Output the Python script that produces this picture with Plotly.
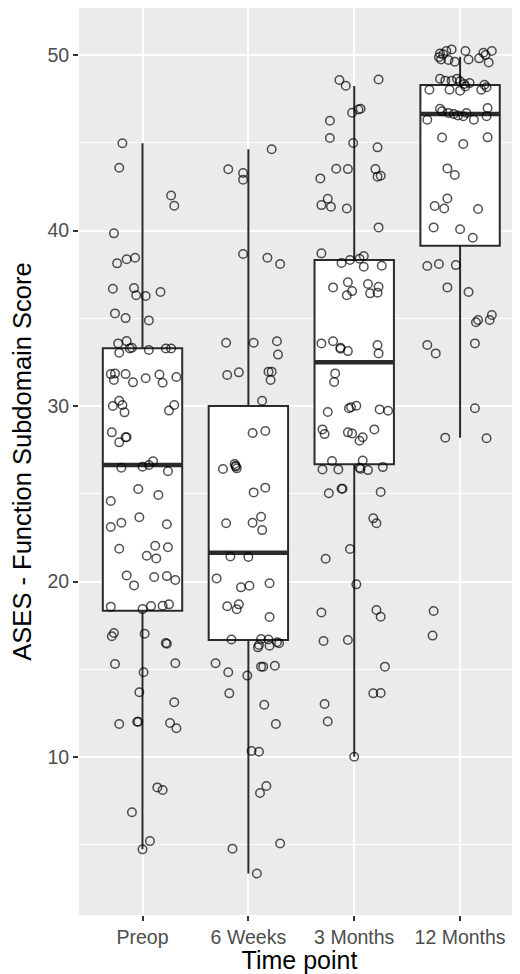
import plotly.graph_objects as go

categories = ["Preop", "6 Weeks", "3 Months", "12 Months"]

# Box statistics
q1 = [18.34, 16.67, 26.68, 39.13]
median = [26.64, 21.64, 32.49, 46.64]
q3 = [33.30, 30.00, 38.32, 48.29]
lower_whisker = [4.74, 3.36, 10.02, 28.20]
upper_whisker = [44.97, 44.63, 48.23, 49.90]

# Jittered points: (horizontal jitter offset in category units, score)
preop_jitter = [-0.19, -0.22, 0.27, 0.30, -0.27, -0.24, -0.15, -0.07, -0.28, -0.08, -0.06, 0.03, 0.17,
                -0.26, -0.16, 0.06, -0.23, -0.15, -0.10, -0.22, -0.12, 0.06, 0.22, 0.27, -0.30, -0.26,
                -0.27, -0.16, -0.09, 0.03, 0.16, 0.19, 0.32, -0.22, -0.19, -0.28, -0.17, 0.30, 0.25,
                -0.29, -0.22, -0.16, -0.15, -0.20, 0.00, 0.06, 0.10, 0.24, -0.04, 0.15, -0.30, -0.03,
                -0.20, -0.30, 0.23, -0.22, 0.12, 0.24, 0.04, 0.13, -0.15, -0.08, 0.11, 0.23, 0.31,
                -0.30, 0.00, 0.08, 0.19, 0.25, -0.29, -0.27, 0.02, 0.22, 0.23, -0.26, 0.01, 0.31,
                -0.03, 0.30, -0.22, -0.05, -0.04, 0.26, 0.32, 0.14, 0.19, -0.10, 0.07, 0.00]
preop_score = [44.97, 43.58, 42.00, 41.41, 39.84, 38.13, 38.36, 38.45, 36.68, 36.72, 36.31, 36.27, 36.50,
               35.28, 35.01, 34.88, 33.57, 33.70, 33.32, 33.04, 33.28, 33.19, 33.28, 33.28, 31.82, 31.86,
               31.48, 31.82, 31.35, 31.58, 31.80, 31.33, 31.65, 30.30, 30.06, 30.00, 29.64, 30.06, 29.74,
               28.50, 27.93, 28.22, 28.22, 26.48, 26.54, 26.64, 26.85, 26.28, 25.27, 24.93, 24.59, 23.66,
               23.35, 23.11, 23.26, 21.87, 22.04, 21.95, 21.47, 21.32, 20.35, 19.78, 20.26, 20.31, 20.09,
               18.57, 18.43, 18.60, 18.62, 18.70, 16.88, 17.07, 17.03, 16.50, 16.46, 15.30, 14.83, 15.34,
               13.69, 13.12, 11.88, 12.01, 12.01, 11.94, 11.64, 8.27, 8.12, 6.85, 5.21, 4.74]

weeks6_jitter = [0.22, -0.19, -0.05, -0.05, -0.05, 0.18, 0.30, -0.21, 0.05, 0.27, 0.28, -0.20, -0.09,
                 0.19, 0.22, 0.21, 0.13, 0.04, 0.16, -0.24, -0.13, -0.12, -0.11, -0.12, 0.05, 0.16,
                 -0.21, 0.04, 0.12, 0.13, -0.17, 0.00, -0.30, -0.07, 0.01, 0.20, -0.20, -0.11, -0.09,
                 0.20, -0.16, 0.12, 0.09, 0.10, 0.19, 0.20, 0.27, 0.29, -0.31, -0.19, -0.01, 0.12,
                 0.14, 0.25, -0.18, 0.15, 0.26, 0.03, 0.10, 0.17, 0.11, -0.15, 0.30, 0.08]
weeks6_score = [44.63, 43.49, 43.28, 42.90, 38.66, 38.45, 38.09, 33.61, 33.61, 33.69, 32.93, 31.77, 31.92,
                31.96, 31.96, 31.48, 30.30, 28.46, 28.58, 26.41, 26.70, 26.60, 26.45, 26.55, 25.08, 25.35,
                23.32, 23.35, 23.69, 22.93, 21.43, 21.40, 20.18, 19.67, 19.76, 19.90, 18.59, 18.42, 18.70,
                17.98, 16.70, 16.72, 16.25, 16.38, 16.70, 16.34, 16.54, 16.48, 15.34, 14.83, 14.64, 15.15,
                15.15, 15.20, 13.63, 12.98, 11.88, 10.34, 10.30, 8.35, 7.95, 4.78, 5.07, 3.36]

months3_jitter = [-0.14, -0.08, 0.23, -0.02, 0.04, 0.06, -0.23, -0.23, -0.01, 0.22, -0.17, -0.06, 0.20,
                  0.22, 0.25, -0.32, -0.25, -0.31, -0.22, -0.07, 0.23, -0.31, -0.12, -0.04, 0.05, 0.09,
                  0.09, 0.26, -0.20, -0.06, -0.02, -0.07, 0.13, 0.23, 0.15, 0.22, -0.31, -0.20, -0.13,
                  -0.13, -0.06, 0.22, 0.23, -0.18, -0.19, -0.25, -0.05, -0.03, 0.02, 0.24, 0.32, -0.30,
                  -0.28, -0.06, -0.02, 0.05, 0.08, 0.19, -0.21, 0.08, -0.30, -0.15, 0.05, 0.06, 0.13,
                  0.27, -0.12, -0.11, -0.24, 0.25, 0.18, 0.21, -0.04, -0.27, 0.02, -0.31, 0.21, 0.25,
                  -0.29, -0.06, 0.29, 0.18, 0.25, -0.28, -0.25, 0.00]
months3_score = [48.58, 48.25, 48.61, 46.71, 46.90, 46.94, 46.26, 45.27, 44.99, 44.74, 43.52, 43.50, 43.50,
                 43.07, 43.12, 42.97, 41.81, 41.45, 41.36, 41.26, 40.18, 38.70, 38.15, 38.32, 38.39, 38.55,
                 37.94, 37.99, 36.76, 37.05, 36.55, 36.31, 36.95, 36.80, 36.42, 36.46, 33.57, 33.69, 33.32,
                 33.27, 33.13, 33.48, 33.00, 31.86, 31.37, 29.66, 29.87, 29.93, 30.02, 29.81, 29.73, 28.67,
                 28.40, 28.50, 28.44, 28.02, 28.22, 28.67, 26.87, 26.90, 26.39, 26.39, 26.48, 26.42, 26.35,
                 26.52, 25.29, 25.29, 25.03, 25.10, 23.60, 23.32, 21.85, 21.30, 19.84, 18.24, 18.38, 17.99,
                 16.61, 16.67, 15.15, 13.63, 13.65, 13.02, 12.03, 10.02]

months12_jitter = [-0.19, -0.20, -0.16, -0.13, -0.08, -0.18, -0.11, -0.05, 0.05, 0.08, 0.18, 0.22, 0.24,
                   0.30, 0.27, -0.19, -0.14, -0.08, -0.03, 0.00, 0.04, 0.09, 0.23, -0.29, -0.10, 0.00,
                   0.05, 0.20, 0.25, -0.19, -0.17, -0.11, -0.06, -0.02, 0.03, 0.06, 0.13, 0.26, 0.25,
                   -0.31, -0.17, 0.03, 0.26, -0.12, -0.05, -0.12, -0.24, -0.15, 0.17, -0.25, 0.00, 0.12,
                   -0.31, -0.20, -0.04, -0.12, 0.08, 0.15, 0.17, 0.28, 0.30, -0.31, -0.23, 0.14, 0.14,
                   -0.14, 0.25, -0.25, -0.26]
months12_score = [50.09, 49.87, 50.04, 50.23, 50.32, 49.75, 49.72, 49.62, 50.23, 49.75, 49.81, 50.13, 50.00,
                  50.23, 49.58, 48.65, 48.54, 48.54, 48.65, 48.50, 48.35, 48.40, 48.31, 48.02, 48.02, 47.97,
                  48.21, 48.02, 48.16, 46.94, 46.79, 46.70, 46.64, 46.56, 46.51, 46.70, 46.31, 46.98, 46.51,
                  46.31, 45.30, 44.93, 45.31, 43.54, 43.16, 41.83, 41.40, 41.26, 41.23, 40.18, 40.07, 39.59,
                  37.98, 38.09, 38.03, 36.76, 36.50, 34.77, 34.90, 34.90, 35.19, 33.48, 33.00, 33.57, 29.87,
                  28.20, 28.16, 18.32, 16.92]

y_ticks = [10, 20, 30, 40, 50]

BOX_WIDTH = 0.75
FONT = "Liberation Sans, Arial, sans-serif"
pos = list(range(len(categories)))

fig = go.Figure()

fig.add_trace(go.Box(
    x=pos, q1=q1, median=median, q3=q3,
    lowerfence=lower_whisker, upperfence=upper_whisker,
    width=BOX_WIDTH, whiskerwidth=0, boxpoints=False,
    fillcolor="white", line=dict(color="#2b2b2b", width=2),
    hoverinfo="skip", showlegend=False,
))

# thicker median bars (ggplot fatten)
mx, my = [], []
for p, m in zip(pos, median):
    mx += [p - BOX_WIDTH / 2, p + BOX_WIDTH / 2, None]
    my += [m, m, None]
fig.add_trace(go.Scatter(x=mx, y=my, mode="lines",
                         line=dict(color="#2b2b2b", width=4.5),
                         hoverinfo="skip", showlegend=False))

groups = [(preop_jitter, preop_score), (weeks6_jitter, weeks6_score),
          (months3_jitter, months3_score), (months12_jitter, months12_score)]
px_, py_ = [], []
for p, (jit, sc) in zip(pos, groups):
    px_ += [p + j for j in jit]
    py_ += sc
fig.add_trace(go.Scatter(
    x=px_, y=py_, mode="markers",
    marker=dict(symbol="circle-open", size=8.5, color="rgba(0,0,0,0.68)",
                line=dict(width=1.5)),
    hoverinfo="skip", showlegend=False,
))

# The page body adds an 8 px margin at left/top; the figure is sized to fit.
fig.update_layout(
    width=512, height=966,
    margin=dict(l=71, r=0, t=0, b=59, autoexpand=False),
    paper_bgcolor="white", plot_bgcolor="#EBEBEB",
    font=dict(family=FONT),
    showlegend=False,
)
fig.update_xaxes(
    range=[-0.6, 3.566], tickmode="array", tickvals=pos, ticktext=categories,
    showgrid=True, gridcolor="white", gridwidth=2, zeroline=False,
    ticks="outside", ticklen=5, tickwidth=2, tickcolor="#333333",
    tickfont=dict(size=19.5, color="#4D4D4D", family=FONT),
    title=dict(text="Time point", font=dict(size=25, color="black", family=FONT), standoff=4),
    showline=False, automargin=False,
)
fig.update_yaxes(
    range=[1.0, 52.68], tickmode="array", tickvals=y_ticks,
    showgrid=True, gridcolor="white", gridwidth=2, zeroline=False,
    minor=dict(tickmode="array", tickvals=[5, 15, 25, 35, 45], showgrid=True,
               gridcolor="white", gridwidth=1, ticks=""),
    ticks="outside", ticklen=5, tickwidth=2, tickcolor="#333333",
    tickfont=dict(size=19.5, color="#4D4D4D", family=FONT),
    title=dict(text="ASES - Function Subdomain Score",
               font=dict(size=25.5, color="black", family=FONT), standoff=8),
    showline=False, automargin=False,
)

fig.write_html("out.html")
